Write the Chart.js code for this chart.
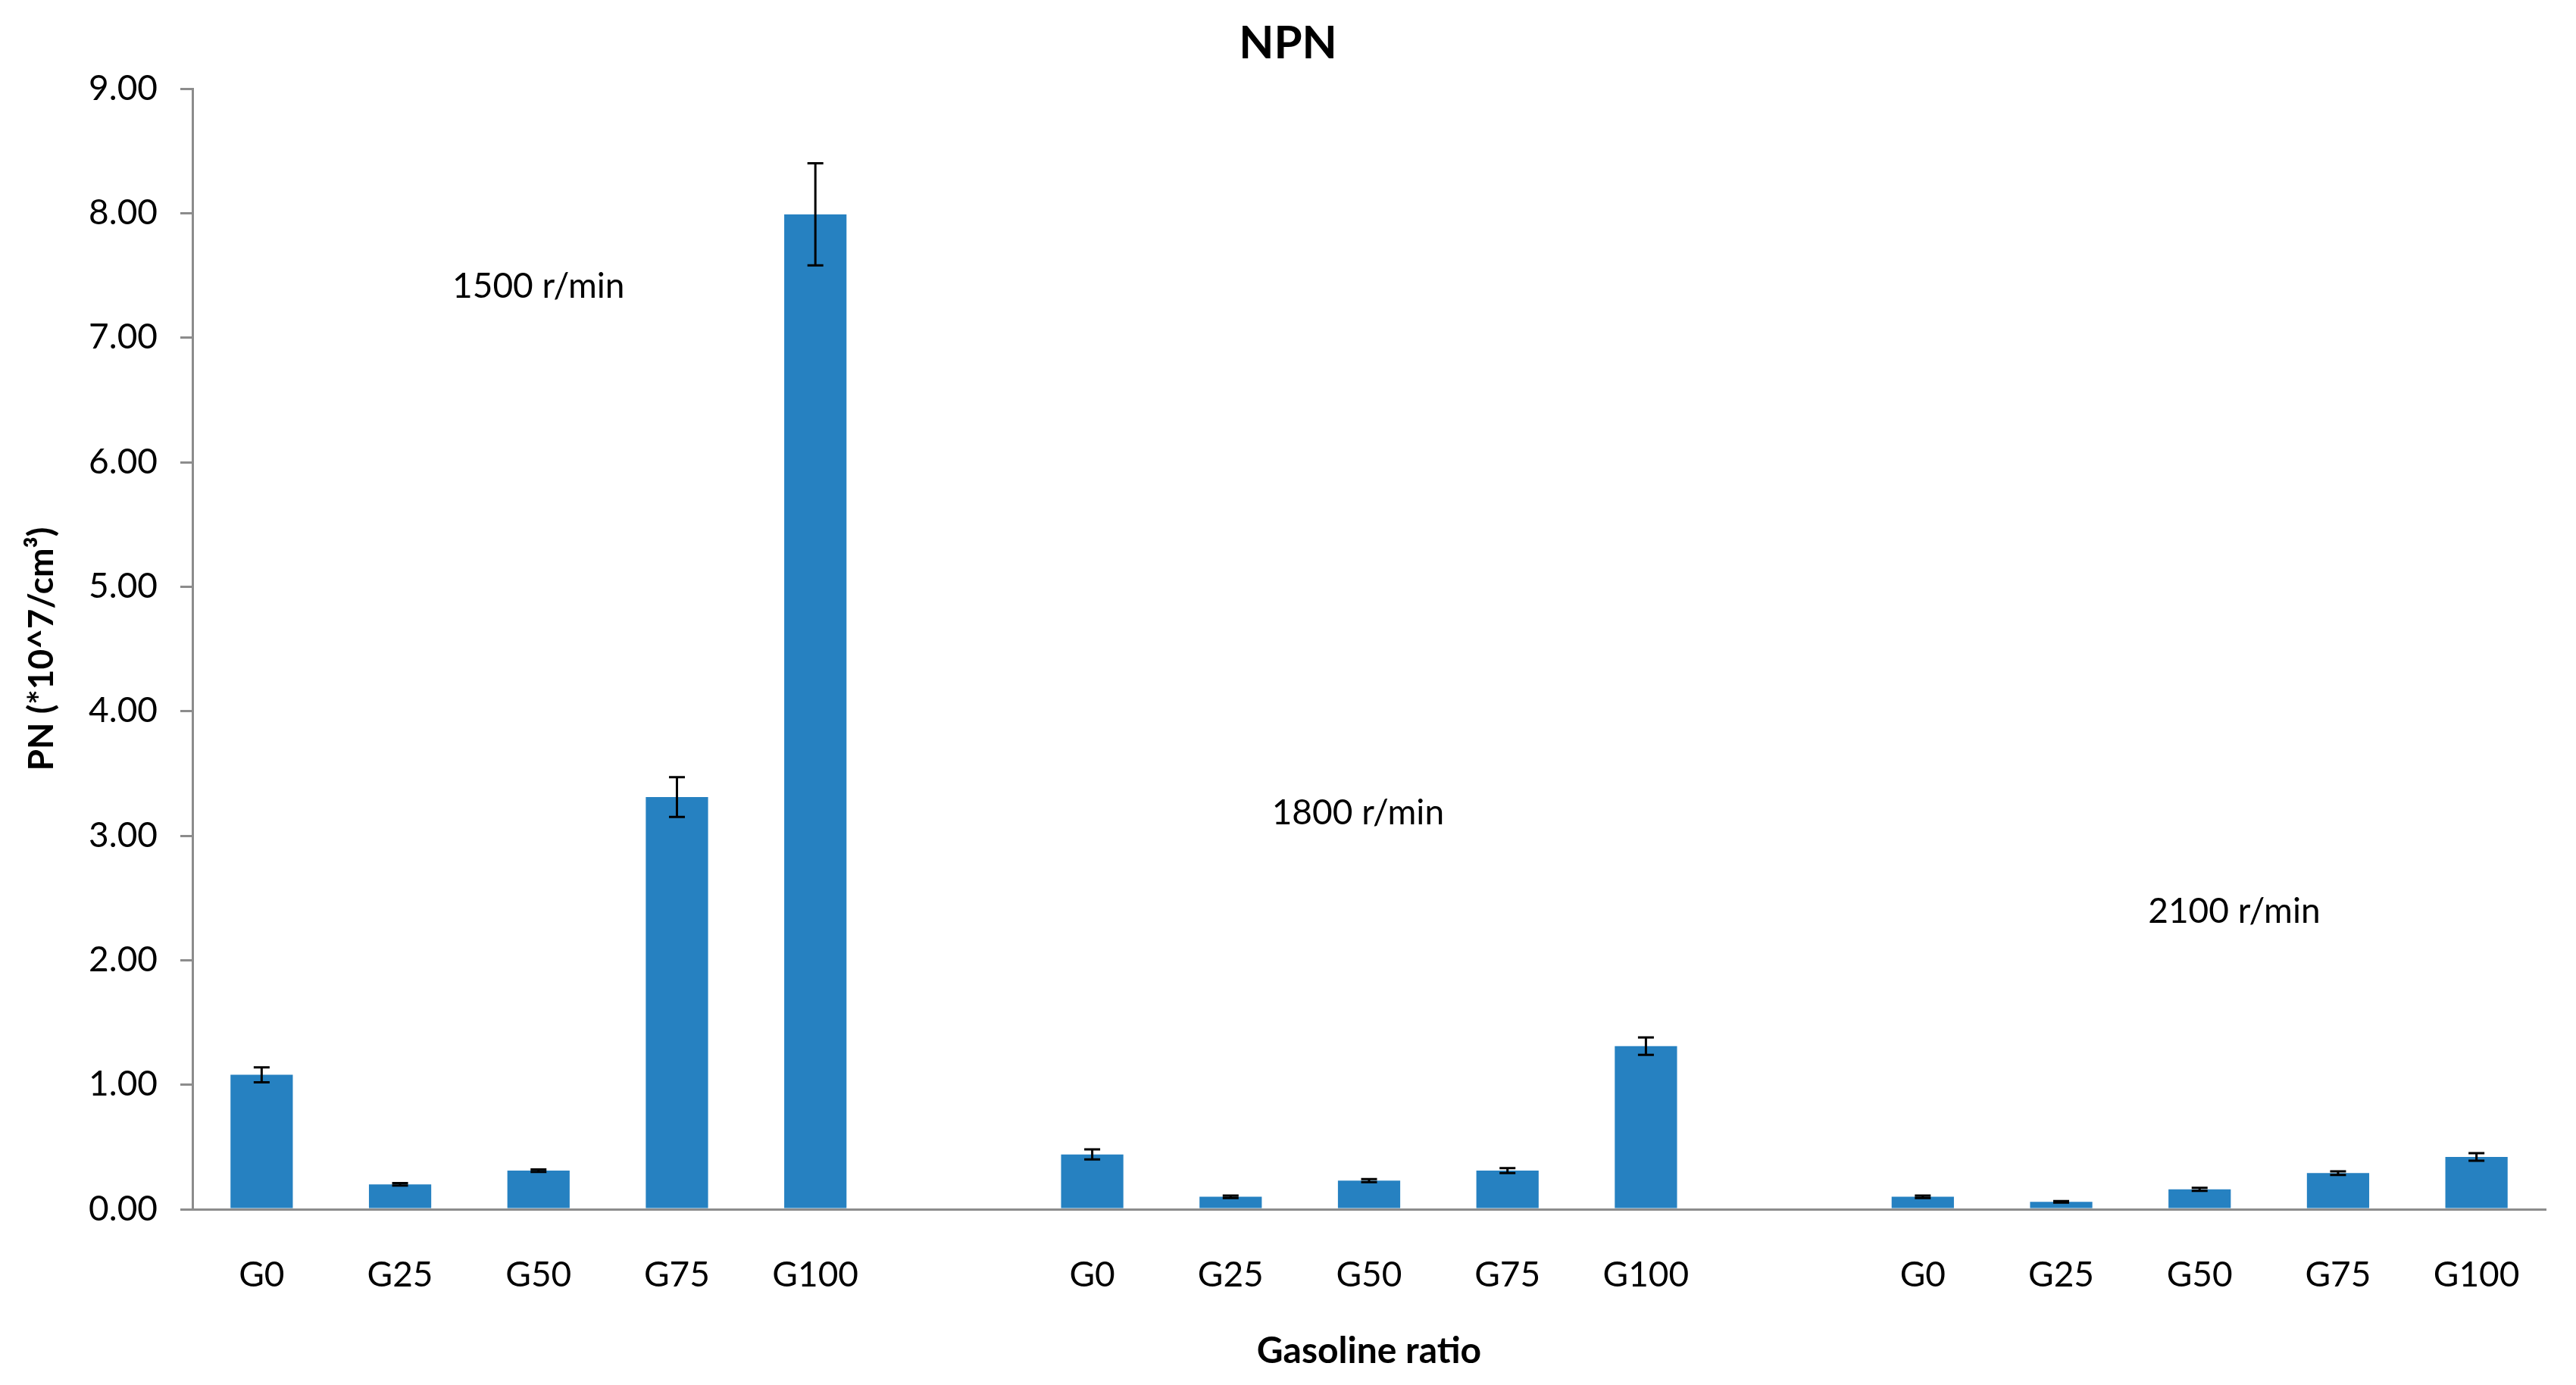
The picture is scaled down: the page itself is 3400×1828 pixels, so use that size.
<!DOCTYPE html>
<html>
<head>
<meta charset="utf-8">
<script src="https://cdn.jsdelivr.net/npm/chart.js@4.4.1/dist/chart.umd.min.js"></script>
<style>
  html, body { margin: 0; padding: 0; background: #fff; }
  #wrap { width: 3400px; height: 1828px; }
</style>
</head>
<body>
<div id="wrap"><canvas id="chart" width="3400" height="1828"></canvas></div>
<script>
const LABELS = ["G0", "G25", "G50", "G75", "G100", "", "G0", "G25", "G50", "G75", "G100", "", "G0", "G25", "G50", "G75", "G100"];
const VALUES = [1.08, 0.20, 0.31, 3.31, 7.99, null, 0.44, 0.10, 0.23, 0.31, 1.31, null, 0.10, 0.06, 0.16, 0.29, 0.42];
const ERRORS = [0.06, 0.01, 0.01, 0.16, 0.41, null, 0.04, 0.01, 0.012, 0.02, 0.07, null, 0.01, 0.006, 0.012, 0.015, 0.03];

const SPEED_LABELS = ["1500 r/min", "1800 r/min", "2100 r/min"];
const SPEED_X = [2, 7.92, 14.25];
const SPEED_Y = [7.41, 3.18, 2.39];

const FONT = "Lato, 'Open Sans', sans-serif";
const AXIS_GREY = "#8c8c8c";

const errorBars = {
  id: "errorBars",
  afterDatasetsDraw(chart) {
    const { ctx, scales: { x, y } } = chart;
    ctx.save();
    ctx.strokeStyle = "#000";
    ctx.lineWidth = 3;
    VALUES.forEach((v, i) => {
      if (v == null || ERRORS[i] == null) return;
      const px = x.getPixelForValue(i);
      const top = y.getPixelForValue(v + ERRORS[i]);
      const bot = y.getPixelForValue(v - ERRORS[i]);
      ctx.beginPath();
      ctx.moveTo(px, top);
      ctx.lineTo(px, bot);
      ctx.moveTo(px - 10.5, top);
      ctx.lineTo(px + 10.5, top);
      ctx.moveTo(px - 10.5, bot);
      ctx.lineTo(px + 10.5, bot);
      ctx.stroke();
    });
    ctx.restore();
  },
};

const speedText = {
  id: "speedText",
  afterDraw(chart) {
    const { ctx, scales: { x, y } } = chart;
    ctx.save();
    ctx.fillStyle = "#000";
    ctx.font = "46px " + FONT;
    ctx.textAlign = "center";
    ctx.textBaseline = "middle";
    SPEED_LABELS.forEach((t, i) => {
      ctx.fillText(t, x.getPixelForValue(SPEED_X[i]), y.getPixelForValue(SPEED_Y[i]));
    });
    ctx.restore();
  },
};

new Chart(document.getElementById("chart"), {
  type: "bar",
  data: {
    labels: LABELS,
    datasets: [{
      data: VALUES,
      backgroundColor: "#2681c1",
      borderWidth: 0,
      categoryPercentage: 1,
      barPercentage: 0.45,
    }],
  },
  options: {
    responsive: false,
    animation: false,
    devicePixelRatio: 1,
    layout: { padding: { left: 40, right: 40, top: 0, bottom: 0 } },
    plugins: {
      legend: { display: false },
      tooltip: { enabled: false },
      title: {
        display: true,
        text: "NPN",
        color: "#000",
        font: { family: FONT, size: 60, weight: "bold" },
        padding: { top: 22, bottom: 23 },
      },
    },
    scales: {
      x: {
        grid: { display: true, drawOnChartArea: false, drawTicks: false },
        border: { display: true, color: AXIS_GREY, width: 3 },
        ticks: {
          color: "#000",
          font: { family: FONT, size: 46 },
          autoSkip: false,
          maxRotation: 0,
          padding: 60,
        },
        title: {
          display: true,
          text: "Gasoline ratio",
          color: "#000",
          font: { family: FONT, size: 48, weight: "bold" },
          padding: { top: 0, bottom: 16 },
        },
        afterFit(scale) { scale.height = 232; },
      },
      y: {
        min: 0,
        max: 9,
        grid: { drawOnChartArea: false, drawTicks: true, tickLength: 16, color: AXIS_GREY, lineWidth: 3 },
        border: { display: true, color: AXIS_GREY, width: 3 },
        ticks: {
          stepSize: 1,
          color: "#000",
          font: { family: FONT, size: 46 },
          padding: 30,
          callback: (v) => Number(v).toFixed(2),
        },
        title: {
          display: true,
          text: "PN (*10^7/cm³)",
          color: "#000",
          font: { family: FONT, size: 46, weight: "bold" },
          padding: { top: -12, bottom: 0 },
        },
        afterFit(scale) { scale.width = 214; },
      },
    },
  },
  plugins: [errorBars, speedText],
});
</script>
</body>
</html>
